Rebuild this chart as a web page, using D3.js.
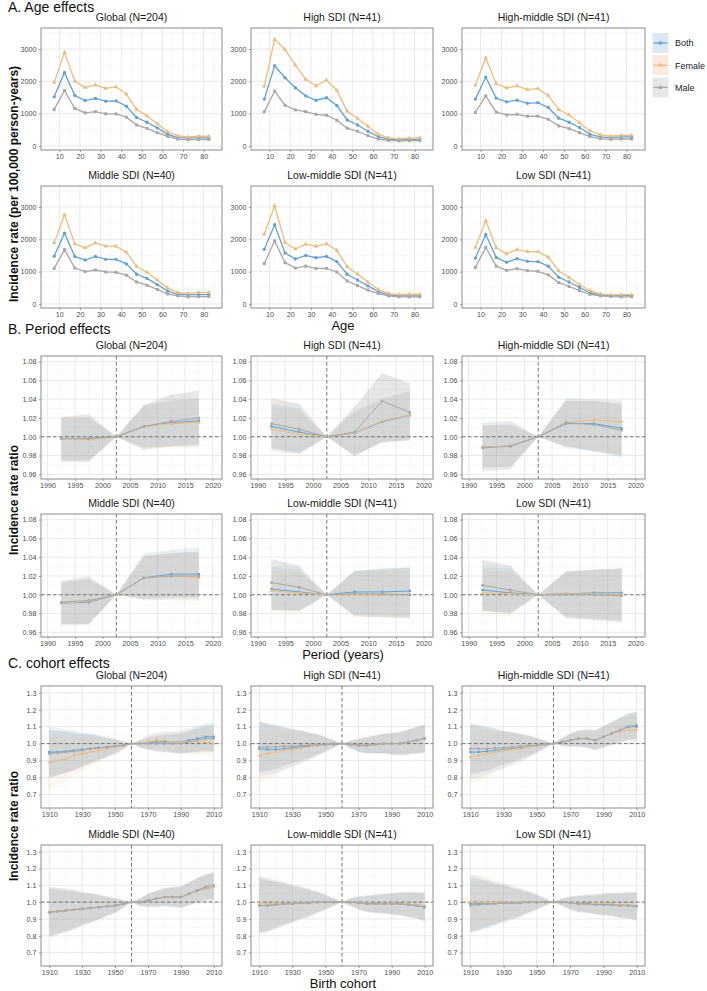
<!DOCTYPE html>
<html><head><meta charset="utf-8">
<script src="https://cdn.jsdelivr.net/npm/d3@7"></script>
<style>
body{margin:0;background:#fff}
text{font-family:"Liberation Sans",Arial,Helvetica,sans-serif}
</style>
</head><body>
<svg id="c" width="707" height="991"></svg>
<script>
// ---------------- DATA ----------------
const regions = ["Global (N=204)","High SDI (N=41)","High-middle SDI (N=41)","Middle SDI (N=40)","Low-middle SDI (N=41)","Low SDI (N=41)"];
const sexes = ["Both","Female","Male"];

const ageGroups = [7.5,12.5,17.5,22.5,27.5,32.5,37.5,42.5,47.5,52.5,57.5,62.5,67.5,72.5,77.5,82.5];
const ageTicksX = [10,20,30,40,50,60,70,80];
const ageTicksY = [0,1000,2000,3000];

const ageBoth = [
 [1520,2275,1560,1405,1470,1385,1395,1230,880,735,560,360,260,250,250,250],
 [1450,2480,2110,1800,1550,1415,1490,1250,805,650,455,290,205,185,195,205],
 [1450,2130,1480,1365,1415,1320,1340,1190,860,735,570,360,280,260,280,280],
 [1480,2190,1470,1360,1470,1380,1380,1240,920,790,600,400,300,280,290,290],
 [1690,2450,1580,1390,1500,1430,1470,1310,920,740,560,380,280,250,250,250],
 [1420,2150,1440,1290,1400,1320,1310,1170,830,680,510,350,270,250,260,260]];
const ageFemale = [
 [1965,2895,2005,1810,1890,1780,1830,1600,1130,930,690,435,310,280,300,300],
 [1850,3300,2990,2500,2060,1860,2040,1725,1075,850,610,360,250,220,240,260],
 [1880,2720,1930,1795,1860,1745,1775,1560,1125,960,720,465,340,300,330,330],
 [1890,2760,1860,1740,1890,1790,1790,1600,1160,980,740,490,360,330,360,360],
 [2160,3040,1900,1700,1850,1790,1860,1660,1150,920,680,450,330,290,300,300],
 [1750,2580,1740,1550,1690,1620,1620,1450,1020,820,600,410,310,280,290,290]];
const ageMale = [
 [1125,1715,1160,1025,1065,995,990,890,650,545,410,300,210,195,200,200],
 [1055,1695,1260,1115,1065,980,950,795,550,455,320,215,175,155,165,165],
 [1035,1550,1045,960,980,920,920,825,620,535,410,290,225,205,215,215],
 [1100,1680,1110,1000,1050,990,980,890,680,580,450,310,250,220,230,230],
 [1250,1950,1280,1110,1170,1100,1100,990,710,570,430,320,250,220,220,220],
 [1130,1750,1170,1040,1090,1030,1010,900,660,540,410,300,250,230,220,220]];

const periods = [1992.5,1997.5,2002.5,2007.5,2012.5,2017.5];
const periodRef = 2002.5;
const periodTicksX = [1990,1995,2000,2005,2010,2015,2020];
const periodTicksY = [0.96,0.98,1.00,1.02,1.04,1.06,1.08];

const periodBoth = [
 [0.998,0.998,1,1.011,1.015,1.017],
 [1.011,1.005,1,1.004,1.016,1.023],
 [0.989,0.990,1,1.014,1.014,1.009],
 [0.991,0.992,1,1.018,1.022,1.022],
 [1.006,1.003,1,1.003,1.003,1.004],
 [1.005,1.002,1,1.001,1.002,1.002]];
const periodFemale = [
 [0.998,0.997,1,1.011,1.014,1.015],
 [1.008,1.003,1,1.004,1.017,1.023],
 [0.989,0.990,1,1.015,1.018,1.016],
 [0.991,0.993,1,1.018,1.020,1.018],
 [1.004,1.002,1,1.000,1.000,1.000],
 [1.002,1.001,1,1.001,1.001,1.000]];
const periodMale = [
 [0.998,0.998,1,1.011,1.0165,1.020],
 [1.014,1.008,1,1.005,1.038,1.026],
 [0.988,0.990,1,1.015,1.013,1.007],
 [0.992,0.994,1,1.018,1.020,1.020],
 [1.013,1.008,1,1.001,1.001,1.000],
 [1.010,1.005,1,1.000,1.000,0.999]];
const periodBothLo = [
 [0.973,0.973,1,0.989,0.990,0.990],[0.986,0.982,1,0.981,0.993,0.997],[0.963,0.965,1,0.988,0.984,0.978],
 [0.967,0.968,1,0.994,0.995,0.995],[0.984,0.983,1,0.979,0.978,0.977],[0.983,0.981,1,0.977,0.975,0.973]];
const periodBothHi = [
 [1.020,1.020,1,1.033,1.039,1.041],[1.035,1.030,1,1.027,1.040,1.049],[1.015,1.017,1,1.041,1.040,1.039],
 [1.015,1.020,1,1.044,1.048,1.050],[1.030,1.027,1,1.026,1.027,1.029],[1.029,1.028,1,1.024,1.026,1.028]];
const periodFemaleLo = [
 [0.974,0.972,1,0.988,0.989,0.988],[0.984,0.980,1,0.980,0.994,0.996],[0.964,0.966,1,0.989,0.985,0.980],
 [0.968,0.969,1,0.995,0.994,0.992],[0.982,0.980,1,0.977,0.976,0.975],[0.980,0.978,1,0.976,0.974,0.972]];
const periodFemaleHi = [
 [1.021,1.021,1,1.033,1.038,1.040],[1.032,1.027,1,1.027,1.041,1.048],[1.014,1.016,1,1.040,1.040,1.038],
 [1.014,1.019,1,1.042,1.046,1.045],[1.026,1.024,1,1.024,1.025,1.026],[1.025,1.024,1,1.025,1.027,1.028]];
const periodMaleLo = [
 [0.975,0.975,1,0.986,0.990,0.992],[0.988,0.983,1,0.979,0.995,0.996],[0.967,0.968,1,0.990,0.985,0.980],
 [0.969,0.969,1,0.996,0.997,0.997],[0.984,0.983,1,0.977,0.976,0.975],[0.983,0.980,1,0.975,0.973,0.971]];
const periodMaleHi = [
 [1.021,1.024,1,1.034,1.045,1.049],[1.041,1.035,1,1.032,1.068,1.057],[1.012,1.013,1,1.038,1.038,1.035],
 [1.013,1.017,1,1.041,1.044,1.046],[1.038,1.031,1,1.025,1.028,1.029],[1.037,1.031,1,1.025,1.027,1.028]];

const cohorts = [1910,1915,1920,1925,1930,1935,1940,1945,1950,1955,1960,1965,1970,1975,1980,1985,1990,1995,2000,2005,2010];
const cohortRef = 1960;
const cohortTicksX = [1910,1930,1950,1970,1990,2010];
const cohortTicksY = [0.7,0.8,0.9,1.0,1.1,1.2,1.3];

const cohortBoth = [
 [0.95,0.95,0.955,0.96,0.965,0.97,0.975,0.98,0.985,0.99,1.0,1.0,1.005,1.01,1.01,1.01,1.01,1.02,1.03,1.04,1.04],
 [0.97,0.965,0.965,0.97,0.975,0.98,0.985,0.99,0.995,0.995,1.0,0.995,0.99,0.99,0.995,1.0,1.0,1.0,1.01,1.02,1.03],
 [0.95,0.95,0.955,0.96,0.965,0.97,0.975,0.98,0.99,0.995,1.0,1.01,1.02,1.03,1.03,1.02,1.04,1.06,1.08,1.10,1.10],
 [0.94,0.945,0.95,0.955,0.96,0.965,0.97,0.975,0.98,0.99,1.0,1.0,1.01,1.02,1.03,1.03,1.03,1.05,1.07,1.08,1.09],
 [0.98,0.98,0.985,0.99,0.99,0.995,0.995,1.0,1.0,1.0,1.0,1.0,0.995,0.99,0.99,0.99,0.99,0.99,0.985,0.98,0.97],
 [0.99,0.99,0.99,0.99,0.995,0.995,0.995,1.0,1.0,1.0,1.0,1.0,0.995,0.99,0.99,0.985,0.985,0.985,0.98,0.98,0.975]];
const cohortFemale = [
 [0.89,0.90,0.91,0.93,0.94,0.95,0.96,0.97,0.98,0.99,1.0,1.0,1.01,1.02,1.02,1.01,1.01,1.01,1.01,1.01,1.0],
 [0.93,0.94,0.95,0.96,0.965,0.975,0.98,0.99,0.995,1.0,1.0,0.995,0.99,0.99,0.995,1.0,1.0,1.0,1.01,1.02,1.03],
 [0.92,0.93,0.94,0.95,0.96,0.965,0.97,0.98,0.99,0.995,1.0,1.01,1.02,1.03,1.03,1.02,1.04,1.06,1.07,1.08,1.08],
 [0.94,0.945,0.95,0.955,0.96,0.965,0.97,0.975,0.98,0.99,1.0,1.0,1.01,1.02,1.03,1.03,1.03,1.05,1.07,1.08,1.09],
 [0.99,0.99,0.99,0.99,0.995,0.995,0.995,1.0,1.0,1.0,1.0,1.0,0.995,0.99,0.99,0.99,0.99,0.99,0.99,0.985,0.98],
 [1.0,1.0,1.0,1.0,1.0,1.0,1.0,1.0,1.0,1.0,1.0,1.0,0.995,0.99,0.99,0.99,0.99,0.99,0.985,0.985,0.98]];
const cohortMale = [
 [0.94,0.945,0.95,0.955,0.96,0.97,0.975,0.98,0.985,0.99,1.0,1.0,1.0,1.0,1.0,1.0,1.0,1.01,1.02,1.03,1.03],
 [0.98,0.98,0.98,0.985,0.985,0.99,0.99,0.995,0.995,1.0,1.0,0.995,0.99,0.99,0.995,1.0,1.0,1.0,1.01,1.02,1.03],
 [0.97,0.97,0.97,0.975,0.975,0.98,0.985,0.99,0.99,0.995,1.0,1.01,1.02,1.03,1.03,1.02,1.04,1.06,1.08,1.10,1.11],
 [0.94,0.945,0.95,0.955,0.96,0.965,0.97,0.975,0.98,0.99,1.0,1.0,1.01,1.02,1.03,1.03,1.03,1.05,1.07,1.09,1.10],
 [0.98,0.98,0.985,0.99,0.99,0.995,0.995,1.0,1.0,1.0,1.0,1.0,0.995,0.99,0.99,0.99,0.99,0.99,0.985,0.98,0.97],
 [0.98,0.985,0.99,0.99,0.995,0.995,0.995,1.0,1.0,1.0,1.0,1.0,0.995,0.99,0.99,0.985,0.985,0.985,0.98,0.98,0.975]];
// half-widths of the confidence bands
const cohortBothHW = [
 [0.15,0.14,0.13,0.12,0.10,0.09,0.075,0.06,0.045,0.025,0,0.025,0.04,0.05,0.055,0.06,0.065,0.07,0.075,0.08,0.085],
 [0.16,0.15,0.14,0.12,0.11,0.095,0.08,0.065,0.045,0.025,0,0.025,0.04,0.05,0.055,0.06,0.065,0.07,0.075,0.08,0.085],
 [0.16,0.15,0.14,0.12,0.11,0.095,0.08,0.065,0.045,0.025,0,0.025,0.04,0.05,0.055,0.06,0.065,0.07,0.075,0.08,0.085],
 [0.15,0.14,0.13,0.12,0.10,0.09,0.075,0.06,0.045,0.025,0,0.025,0.04,0.05,0.055,0.06,0.065,0.07,0.075,0.08,0.085],
 [0.17,0.16,0.145,0.13,0.115,0.10,0.085,0.065,0.045,0.025,0,0.025,0.04,0.05,0.055,0.06,0.065,0.07,0.075,0.08,0.085],
 [0.17,0.16,0.145,0.13,0.115,0.10,0.085,0.065,0.045,0.025,0,0.025,0.04,0.05,0.055,0.06,0.065,0.07,0.075,0.08,0.085]];
const cohortMaleHW = [
 [0.14,0.13,0.12,0.11,0.095,0.085,0.07,0.055,0.04,0.02,0,0.02,0.035,0.045,0.05,0.055,0.06,0.065,0.07,0.075,0.08],
 [0.15,0.14,0.13,0.115,0.10,0.09,0.075,0.06,0.04,0.02,0,0.02,0.035,0.045,0.05,0.055,0.06,0.065,0.07,0.075,0.08],
 [0.15,0.14,0.13,0.115,0.10,0.09,0.075,0.06,0.04,0.02,0,0.02,0.035,0.045,0.05,0.055,0.06,0.065,0.07,0.075,0.08],
 [0.14,0.13,0.12,0.11,0.095,0.085,0.07,0.055,0.04,0.02,0,0.02,0.035,0.045,0.05,0.055,0.06,0.065,0.07,0.075,0.08],
 [0.16,0.15,0.135,0.12,0.105,0.09,0.075,0.06,0.04,0.02,0,0.02,0.035,0.045,0.05,0.055,0.06,0.065,0.07,0.075,0.08],
 [0.16,0.15,0.135,0.12,0.105,0.09,0.075,0.06,0.04,0.02,0,0.02,0.035,0.045,0.05,0.055,0.06,0.065,0.07,0.075,0.08]];

// ---------------- STYLE / LAYOUT ----------------
const lineCol = {Both:"#62a3d6", Female:"#edbd7e", Male:"#a8a8a8"};
const bandCol = {Both:"rgba(107,174,214,0.17)", Female:"rgba(240,190,120,0.12)", Male:"rgba(165,165,165,0.28)"};
const keyCol = {Both:"#dbe9f5", Female:"#fbeadb", Male:"#e7e7e7"};
const symType = {Both:d3.symbolCircle, Female:d3.symbolTriangle, Male:d3.symbolSquare};

const colX = [[41,222],[251,433],[462,645]];
const svg = d3.select("#c");

function panel(x0,x1,y0,y1,xdom,ydom,xt,yt,xmin,ymin,title,fmtX,fmtY){
  const g = svg.append("g");
  const x = d3.scaleLinear().domain(xdom).range([x0,x1]);
  const y = d3.scaleLinear().domain(ydom).range([y1,y0]);
  g.append("rect").attr("x",x0).attr("y",y0).attr("width",x1-x0).attr("height",y1-y0).attr("fill","#fff");
  g.selectAll(".mnx").data(xmin).join("line").attr("x1",d=>x(d)).attr("x2",d=>x(d)).attr("y1",y0).attr("y2",y1)
    .attr("stroke","#f1f1f1").attr("stroke-width",0.5);
  g.selectAll(".mny").data(ymin).join("line").attr("y1",d=>y(d)).attr("y2",d=>y(d)).attr("x1",x0).attr("x2",x1)
    .attr("stroke","#f1f1f1").attr("stroke-width",0.5);
  g.selectAll(".mjx").data(xt).join("line").attr("x1",d=>x(d)).attr("x2",d=>x(d)).attr("y1",y0).attr("y2",y1)
    .attr("stroke","#e3e3e3").attr("stroke-width",0.8);
  g.selectAll(".mjy").data(yt).join("line").attr("y1",d=>y(d)).attr("y2",d=>y(d)).attr("x1",x0).attr("x2",x1)
    .attr("stroke","#e3e3e3").attr("stroke-width",0.8);
  const ax = d3.axisBottom(x).tickValues(xt).tickSize(2).tickPadding(1.5).tickFormat(fmtX);
  const ay = d3.axisLeft(y).tickValues(yt).tickSize(2).tickPadding(2.5).tickFormat(fmtY);
  const gx = g.append("g").attr("transform",`translate(0,${y1})`).call(ax);
  const gy = g.append("g").attr("transform",`translate(${x0},0)`).call(ay);
  [gx,gy].forEach(a=>{
    a.select(".domain").remove();
    a.selectAll(".tick line").attr("stroke","#999");
    a.selectAll(".tick text").attr("fill","#4d4d4d").style("font-size","7.2px").style("font-family","Liberation Sans, Arial, sans-serif");
  });
  svg.append("text").attr("x",(x0+x1)/2).attr("y",y0-7).attr("text-anchor","middle")
    .style("font-size","10.5px").attr("fill","#1a1a1a").text(title);
  const content = g.append("g");
  g.append("rect").attr("x",x0).attr("y",y0).attr("width",x1-x0).attr("height",y1-y0)
    .attr("fill","none").attr("stroke","#8c8c8c").attr("stroke-width",1);
  return {x,y,content};
}

function drawSeries(p, xs, vals, sex, lw, sz){
  const line = d3.line().x((d,i)=>p.x(xs[i])).y(d=>p.y(d));
  p.content.append("path").datum(vals).attr("d",line).attr("fill","none")
    .attr("stroke",lineCol[sex]).attr("stroke-width",lw);
  p.content.selectAll(null).data(vals).join("path")
    .attr("transform",(d,i)=>`translate(${p.x(xs[i])},${p.y(d)})`)
    .attr("d",d3.symbol().type(symType[sex]).size(sz)).attr("fill",lineCol[sex]);
}
function drawBand(p, xs, lo, hi, sex){
  const area = d3.area().x((d,i)=>p.x(xs[i])).y0((d,i)=>p.y(lo[i])).y1((d,i)=>p.y(hi[i]));
  p.content.append("path").datum(lo).attr("d",area).attr("fill",bandCol[sex]);
}
function refLines(p, xref, yref){
  p.content.append("line").attr("x1",p.x(xref)).attr("x2",p.x(xref))
    .attr("y1",p.y.range()[1]).attr("y2",p.y.range()[0])
    .attr("stroke","#666").attr("stroke-width",0.9).attr("stroke-dasharray","3.5,2.5");
  p.content.append("line").attr("y1",p.y(yref)).attr("y2",p.y(yref))
    .attr("x1",p.x.range()[0]).attr("x2",p.x.range()[1])
    .attr("stroke","#666").attr("stroke-width",0.9).attr("stroke-dasharray","3.5,2.5");
}

// ---------------- A. AGE ----------------
const ageRows = [[28,150],[186,308]];
const ageMinX = [5,15,25,35,45,55,65,75,85];
const ageMinY = [500,1500,2500,3500];
regions.forEach((r,i)=>{
  const [x0,x1] = colX[i%3]; const [y0,y1] = ageRows[Math.floor(i/3)];
  const p = panel(x0,x1,y0,y1,[1.1,88.9],[-125,3650],ageTicksX,ageTicksY,ageMinX,ageMinY,r,d3.format("d"),d3.format("d"));
  drawSeries(p, ageGroups, ageBoth[i], "Both", 1.3, 9);
  drawSeries(p, ageGroups, ageFemale[i], "Female", 1.3, 9);
  drawSeries(p, ageGroups, ageMale[i], "Male", 1.3, 9);
});

// ---------------- B. PERIOD ----------------
const perRows = [[356,479],[514,637]];
const perMinX = [1992.5,1997.5,2002.5,2007.5,2012.5,2017.5];
const perMinY = [0.97,0.99,1.01,1.03,1.05,1.07];
regions.forEach((r,i)=>{
  const [x0,x1] = colX[i%3]; const [y0,y1] = perRows[Math.floor(i/3)];
  const p = panel(x0,x1,y0,y1,[1988.8,2021.7],[0.955,1.086],periodTicksX,periodTicksY,perMinX,perMinY,r,d3.format("d"),d3.format(".2f"));
  drawBand(p, periods, periodBothLo[i], periodBothHi[i], "Both");
  drawBand(p, periods, periodFemaleLo[i], periodFemaleHi[i], "Female");
  drawBand(p, periods, periodMaleLo[i], periodMaleHi[i], "Male");
  refLines(p, periodRef, 1);
  drawSeries(p, periods, periodBoth[i], "Both", 1.0, 6);
  drawSeries(p, periods, periodFemale[i], "Female", 1.0, 6);
  drawSeries(p, periods, periodMale[i], "Male", 1.0, 6);
});

// ---------------- C. COHORT ----------------
const cohRows = [[686,808],[845,966]];
const cohMinX = [1920,1940,1960,1980,2000];
const cohMinY = [0.75,0.85,0.95,1.05,1.15,1.25];
regions.forEach((r,i)=>{
  const [x0,x1] = colX[i%3]; const [y0,y1] = cohRows[Math.floor(i/3)];
  const p = panel(x0,x1,y0,y1,[1905,2015],[0.62,1.34],cohortTicksX,cohortTicksY,cohMinX,cohMinY,r,d3.format("d"),d3.format(".1f"));
  drawBand(p, cohorts, cohortBoth[i].map((v,k)=>v-cohortBothHW[i][k]), cohortBoth[i].map((v,k)=>v+cohortBothHW[i][k]), "Both");
  drawBand(p, cohorts, cohortFemale[i].map((v,k)=>v-cohortBothHW[i][k]), cohortFemale[i].map((v,k)=>v+cohortBothHW[i][k]), "Female");
  drawBand(p, cohorts, cohortMale[i].map((v,k)=>v-cohortMaleHW[i][k]), cohortMale[i].map((v,k)=>v+cohortMaleHW[i][k]), "Male");
  refLines(p, cohortRef, 1);
  drawSeries(p, cohorts, cohortBoth[i], "Both", 1.0, 5);
  drawSeries(p, cohorts, cohortFemale[i], "Female", 1.0, 5);
  drawSeries(p, cohorts, cohortMale[i], "Male", 1.0, 5);
});

// ---------------- TITLES ----------------
function t(x,y,s,size,weight,anchor,rot){
  const e = svg.append("text").attr("x",x).attr("y",y).text(s).style("font-size",size+"px")
    .style("font-weight",weight||"normal").attr("text-anchor",anchor||"start").attr("fill","#111");
  if(rot) e.attr("transform",`rotate(-90,${x},${y})`);
}
t(8,12,"A. Age effects",14,"normal");
t(8,334,"B. Period effects",14,"normal");
t(8,668,"C. cohort effects",14,"normal");
t(343,330,"Age",13,"normal","middle");
t(343,659,"Period (years)",13,"normal","middle");
t(343,988,"Birth cohort",13,"normal","middle");
t(18,184,"Incidence rate (per 100,000 person-years)",12,"bold","middle",true);
t(18,500,"Incidence rate ratio",12,"bold","middle",true);
t(18,826,"Incidence rate ratio",12,"bold","middle",true);

// ---------------- LEGEND ----------------
sexes.forEach((s,i)=>{
  const yk = 33 + i*22.2;
  svg.append("rect").attr("x",652.5).attr("y",yk).attr("width",16).attr("height",20).attr("fill",keyCol[s]);
  svg.append("line").attr("x1",653.5).attr("x2",667.5).attr("y1",yk+10).attr("y2",yk+10)
    .attr("stroke",lineCol[s]).attr("stroke-width",1.3);
  svg.append("path").attr("transform",`translate(660.5,${yk+10})`)
    .attr("d",d3.symbol().type(symType[s]).size(10)).attr("fill",lineCol[s]);
  svg.append("text").attr("x",675).attr("y",yk+13.3).text(s).style("font-size","9px").attr("fill","#222");
});
</script>
</body></html>
